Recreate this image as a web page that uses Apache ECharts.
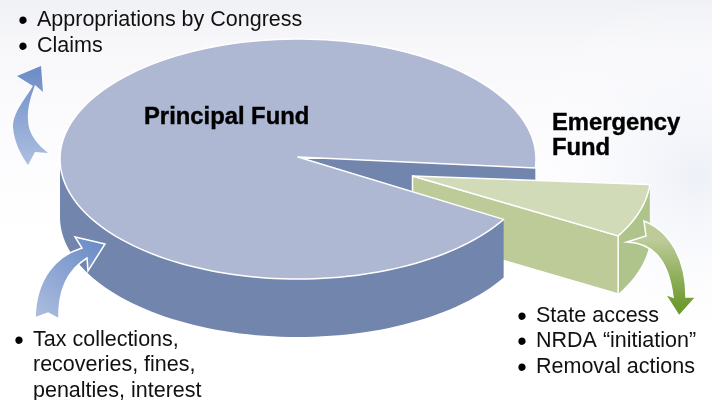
<!DOCTYPE html>
<html>
<head>
<meta charset="utf-8">
<style>html,body{margin:0;padding:0;background:#fff}#chart{width:712px;height:400px}</style>
<script src="https://cdn.jsdelivr.net/npm/echarts@6/dist/echarts.min.js"></script>
</head>
<body>
<div id="chart"></div>
<script>
// Fund names and their share of the whole disc (percent).
var fundNames = ['Principal Fund', 'Emergency Fund'];
var fundShares = [92.8, 7.2];

// Sources and uses listed around the disc.
var usesLines = ['Appropriations by Congress', 'Claims'];
var sourcesLines = ['Tax collections,', 'recoveries, fines,', 'penalties, interest'];
var emergencyUses = ['State access', 'NRDA \u201cinitiation\u201d', 'Removal actions'];

// Disc projection: an ellipse with a visible rim.
var disc = { cx: 298, cy: 159, rx: 238, ry: 120, depth: 58, apexX: 298, apexY: 157, startDeg: 4.3 };
var explode = { x: 114.5, y: 16.5, apexY: 19 };

var colors = {
  top: '#aeb8d2', wall: '#7285ad',
  greenTop: '#d2dbb8', greenWall: '#bccb98', greenRim: '#afc48a'
};

function rimPoint(deg, dx, dy) {
  var a = deg * Math.PI / 180;
  return [disc.cx + disc.rx * Math.cos(a) + dx, disc.cy + disc.ry * Math.sin(a) + dy];
}
function arc(from, to, dx, dy) {
  var pts = [], n = Math.max(8, Math.ceil(Math.abs(to - from) / 2));
  for (var i = 0; i <= n; i++) pts.push(rimPoint(from + (to - from) * i / n, dx, dy));
  return pts;
}
function poly(points, fill, stroke) {
  return {
    type: 'polygon',
    shape: { points: points },
    style: { fill: fill, stroke: stroke || null, lineWidth: stroke ? 1.5 : 0, lineJoin: 'round' }
  };
}
function sliceEnd(share) {
  return disc.startDeg + 360 * share / 100;
}

// Cut face of the principal disc, seen through the gap the wedge leaves.
function renderCutFace() {
  var rim = rimPoint(disc.startDeg, 0, 0);
  var a = [disc.apexX, disc.apexY];
  return poly([a, rim, [rim[0], rim[1] + disc.depth], [a[0], a[1] + disc.depth]], colors.wall);
}

// Exploded wedge for the emergency fund.
function renderWedge(params, api) {
  var share = api.value(0);
  var end = sliceEnd(share);
  var ax = disc.apexX + explode.x, ay = disc.apexY + explode.apexY;
  var topArc = arc(disc.startDeg, end, explode.x, explode.y);
  var lowArc = arc(disc.startDeg, end, explode.x, explode.y + disc.depth);
  var p = topArc[topArc.length - 1];
  return {
    type: 'group',
    children: [
      poly(topArc.concat(lowArc.slice().reverse()), colors.greenRim),
      poly([[ax, ay], p, [p[0], p[1] + disc.depth], [ax, ay + disc.depth]], colors.greenWall, '#ffffff'),
      poly([[ax, ay]].concat(topArc), colors.greenTop, '#ffffff')
    ]
  };
}

// Main disc: outer rim below, sector on top.
function renderPrincipal(params, api) {
  var share = api.value(0);
  var wedgeEnd = sliceEnd(100 - share);
  var fullEnd = disc.startDeg + 360;
  var frontEnd = 180;
  var topArc = arc(wedgeEnd, fullEnd, 0, 0);
  var rimTop = arc(wedgeEnd, frontEnd, 0, 0);
  var rimLow = arc(wedgeEnd, frontEnd, 0, disc.depth);
  return {
    type: 'group',
    children: [
      poly(rimTop.concat(rimLow.slice().reverse()), colors.wall),
      poly([[disc.apexX, disc.apexY]].concat(topArc), colors.top, '#ffffff')
    ]
  };
}

// Flow arrows, one per list of sources or uses.
var arrowPaths = [
  { d: 'M41 66L17 76L33 86C26 98 13 112 13 127C14 142 21 155 28 165L35 152L48 153C38 145 28 134 28 120C27 108 31 96 35 85L43 92Z',
    from: '#6a8bc6', to: '#aebfe0', g: [0, 66, 0, 165], stroke: 'rgba(255,255,255,0)' },
  { d: 'M105 244L75 237L82 248C56 256 36 278 35 318L48 313L59 319C58 290 68 270 87 258L88 271Z',
    from: '#6a8bc6', to: '#aebfe0', g: [100, 240, 35, 319], stroke: '#ffffff' },
  { d: 'M644 221L646 236L627 242C650 243 668 256 673 297L665 294L679 316L696 297L686 297C686 262 672 232 644 221Z',
    from: '#bccb98', to: '#6e9a2f', g: [0, 240, 0, 305], stroke: '#ffffff' }
];
function renderArrow(params) {
  var a = arrowPaths[params.dataIndex];
  return {
    type: 'path',
    shape: { pathData: 'M0 0M712 400' + a.d, layout: 'cover', x: 0, y: 0, width: 712, height: 400 },
    style: {
      fill: { type: 'linear', x: a.g[0], y: a.g[1], x2: a.g[2], y2: a.g[3], global: true,
        colorStops: [{ offset: 0, color: a.from }, { offset: 1, color: a.to }] },
      stroke: a.stroke, lineWidth: 1.5, lineJoin: 'miter'
    }
  };
}

var bodyFont = '"Liberation Sans", Arial, sans-serif';
function bodyText(str, x, y) {
  return {
    type: 'text', x: x, y: y + 1, z: 20,
    style: { text: str, fill: '#111', font: '21.5px ' + bodyFont, verticalAlign: 'middle' }
  };
}
function bullet(x, y) {
  return {
    type: 'text', x: x, y: y + 3, z: 20,
    style: { text: '\u2022', fill: '#000', font: '27px ' + bodyFont, verticalAlign: 'middle', align: 'center' }
  };
}
function boldText(str, x, y) {
  return {
    type: 'text', x: x, y: y, z: 20,
    style: { text: str, fill: '#000', stroke: '#000', lineWidth: 0.4, font: 'bold 23.8px ' + bodyFont, verticalAlign: 'middle' }
  };
}
function bulletList(lines, bulletX, textX, ys, bulletEvery) {
  var out = [];
  lines.forEach(function (line, i) {
    if (bulletEvery || i === 0) out.push(bullet(bulletX, ys[i]));
    out.push(bodyText(line, textX, ys[i]));
  });
  return out;
}

var graphics = [{
  type: 'rect', z: -10, shape: { x: 0, y: 0, width: 712, height: 400 },
  style: { fill: { type: 'linear', x: 0, y: 0, x2: 0, y2: 1,
    colorStops: [{ offset: 0, color: '#f0f1f5' }, { offset: 0.12, color: '#f8f8fb' }, { offset: 0.35, color: '#fcfcfe' }, { offset: 0.6, color: '#fff' }, { offset: 1, color: '#fff' }] } }
}, {
  type: 'rect', z: -9, shape: { x: 400, y: 0, width: 312, height: 320 },
  style: { fill: { type: 'radial', x: 0.95, y: 0.55, r: 0.6,
    colorStops: [{ offset: 0, color: 'rgba(236,239,247,0.9)' }, { offset: 1, color: 'rgba(255,255,255,0)' }] } }
},
  boldText(fundNames[0], 144, 117),
  boldText('Emergency', 552, 123),
  boldText('Fund', 552, 148)
].concat(
  bulletList(usesLines, 23, 37, [19, 45], true),
  bulletList(sourcesLines, 19, 33, [339, 364, 390], false),
  bulletList(emergencyUses, 522, 536, [315, 340, 366], true)
);

var chart = echarts.init(document.getElementById('chart'), null, { renderer: 'canvas' });
chart.setOption({
  animation: false,
  backgroundColor: '#fff',
  graphic: graphics,
  series: [
    { type: 'custom', name: fundNames[0] + ' cut face', coordinateSystem: 'none', z: 1, silent: true, data: [[fundShares[0]]], renderItem: renderCutFace },
    { type: 'custom', name: fundNames[1], coordinateSystem: 'none', z: 2, silent: true, data: [[fundShares[1]]], renderItem: renderWedge },
    { type: 'custom', name: fundNames[0], coordinateSystem: 'none', z: 3, silent: true, data: [[fundShares[0]]], renderItem: renderPrincipal },
    { type: 'custom', name: 'Flows', coordinateSystem: 'none', z: 4, silent: true, data: arrowPaths.map(function (a, i) { return [i]; }), renderItem: renderArrow }
  ]
});
</script>
</body>
</html>
